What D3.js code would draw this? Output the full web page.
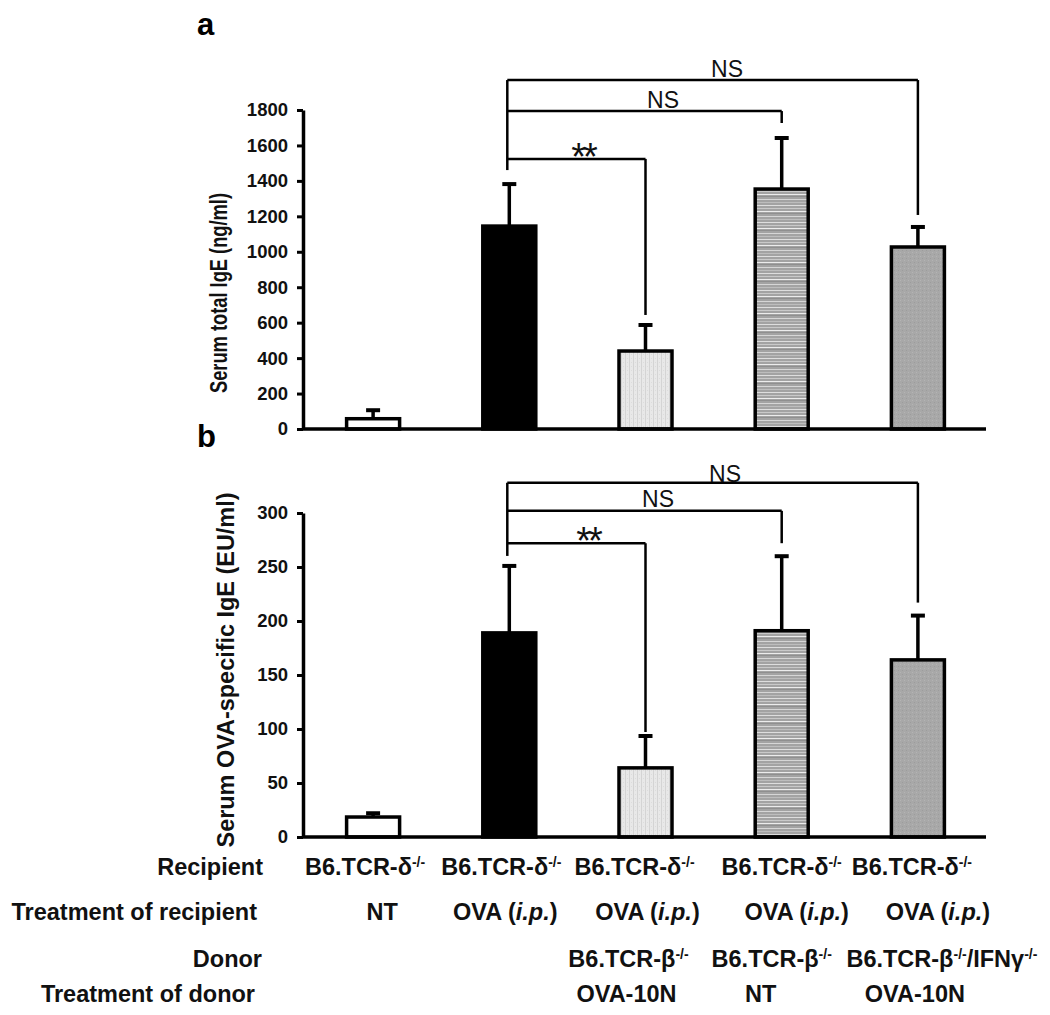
<!DOCTYPE html>
<html><head><meta charset="utf-8">
<script src="https://cdn.jsdelivr.net/npm/d3@7"></script>
<style>
body{margin:0;background:#fff;}
svg{display:block;font-family:"Liberation Sans",Arial,sans-serif;}
</style></head>
<body>
<svg id="chart" width="1050" height="1015"></svg>
<script>
// ---------- data ----------
const categories = ["NT", "OVA", "OVA+TCRb OVA-10N", "OVA+TCRb NT", "OVA+TCRb/IFNg OVA-10N"];
const totalIgE = [58, 1145, 440, 1354, 1027];
const totalIgEErr = [48, 237, 147, 288, 113];
const ovaIgE = [18.5, 189, 64, 191, 164];
const ovaIgEErr = [3.5, 62, 29.5, 69, 41];
const totalTicks = [0, 200, 400, 600, 800, 1000, 1200, 1400, 1600, 1800];
const ovaTicks = [0, 50, 100, 150, 200, 250, 300];
const fills = ["white", "black", "url(#pat3)", "url(#pat4)", "url(#pat5)"];
// comparisons: [from index, to index, label, bracket level a, bracket level b]
const compFrom = [1, 1, 1];
const compTo = [2, 3, 4];
const compLabels = ["**", "NS", "NS"];
const levelsA = [1524, 1794, 1969];
const levelsB = [272, 302, 328];
const rowTitles = ["Recipient", "Treatment of recipient", "Donor", "Treatment of donor"];
const recipient = ["B6.TCR-δ^{-/-}", "B6.TCR-δ^{-/-}", "B6.TCR-δ^{-/-}", "B6.TCR-δ^{-/-}", "B6.TCR-δ^{-/-}"];
const treatRecipient = ["NT", "OVA (<i>i.p.</i>)", "OVA (<i>i.p.</i>)", "OVA (<i>i.p.</i>)", "OVA (<i>i.p.</i>)"];
const donor = ["", "", "B6.TCR-β^{-/-}", "B6.TCR-β^{-/-}", "B6.TCR-β^{-/-}/IFNγ^{-/-}"];
const treatDonor = ["", "", "OVA-10N", "NT", "OVA-10N"];

// ---------- layout ----------
const svg = d3.select("#chart");
const defs = svg.append("defs");
// patterns
const p3 = defs.append("pattern").attr("id","pat3").attr("patternUnits","userSpaceOnUse").attr("width",4).attr("height",4);
p3.append("rect").attr("width",4).attr("height",4).attr("fill","#e8e8e8");
p3.append("rect").attr("x",1).attr("width",1).attr("height",4).attr("fill","#d4d4d4");
p3.append("rect").attr("x",3).attr("y",2).attr("width",1).attr("height",1).attr("fill","#dcdcdc");
const p4 = defs.append("pattern").attr("id","pat4").attr("patternUnits","userSpaceOnUse").attr("width",8).attr("height",17);
p4.append("rect").attr("width",8).attr("height",17).attr("fill","#a3a3a3");
[[1,"#dedede"],[4,"#c9c9c9"],[7,"#ececec"],[9,"#8f8f8f"],[12,"#d6d6d6"],[15,"#bdbdbd"]].forEach(([yy,c])=>{
  p4.append("rect").attr("y",yy).attr("width",8).attr("height",1).attr("fill",c);
});
const p5 = defs.append("pattern").attr("id","pat5").attr("patternUnits","userSpaceOnUse").attr("width",4).attr("height",4);
p5.append("rect").attr("width",4).attr("height",4).attr("fill","#a8a8a8");
p5.append("rect").attr("width",1).attr("height",1).attr("fill","#b4b4b4");
p5.append("rect").attr("x",2).attr("y",2).attr("width",1).attr("height",1).attr("fill","#9c9c9c");

const x = d3.scalePoint().domain(categories).range([305, 986]).padding(0.5);
const barW = 53;

function panel(opts) {
  const {yTop, yBottom, domainMax, ticks, values, errs, levels, title, titleX, titleLen, titleCY, letter, letterY, ns} = opts;
  const y = d3.scaleLinear().domain([0, domainMax]).range([yBottom, yTop]);
  const g = svg.append("g");
  // bars
  g.selectAll("rect.bar").data(values).join("rect").attr("class","bar")
    .attr("x",(d,i)=>x(categories[i]) - barW/2)
    .attr("y",d=>y(d))
    .attr("width",barW)
    .attr("height",d=>y(0)-y(d))
    .attr("fill",(d,i)=>fills[i])
    .attr("stroke","#000").attr("stroke-width",3.5);
  // error bars
  values.forEach((v,i)=>{
    const cx = x(categories[i]);
    g.append("line").attr("x1",cx).attr("x2",cx).attr("y1",y(v)).attr("y2",y(v+errs[i]))
      .attr("stroke","#000").attr("stroke-width",3.5);
    g.append("line").attr("x1",cx-7).attr("x2",cx+7).attr("y1",y(v+errs[i])).attr("y2",y(v+errs[i]))
      .attr("stroke","#000").attr("stroke-width",4);
  });
  // axes
  const ax = g.append("g").attr("transform",`translate(303,0)`)
    .call(d3.axisLeft(y).tickValues(ticks).tickFormat(d3.format("d")).tickSize(6).tickSizeOuter(0).tickPadding(9));
  ax.select(".domain").attr("stroke","#000").attr("stroke-width",3.5);
  ax.selectAll(".tick line").attr("stroke","#000").attr("stroke-width",3);
  ax.selectAll(".tick text").attr("font-size",18.5).attr("font-weight","bold").attr("fill","#111")
    .attr("font-family","'Liberation Sans',Arial,sans-serif");
  g.append("line").attr("x1",303).attr("x2",x.range()[1]).attr("y1",y(0)).attr("y2",y(0))
    .attr("stroke","#000").attr("stroke-width",3.5);
  // title
  g.append("text").attr("transform",`translate(${titleX},${titleCY}) rotate(-90)`)
    .attr("text-anchor","middle").attr("font-size",23).attr("font-weight","bold").attr("fill","#111")
    .attr("textLength",titleLen).attr("lengthAdjust","spacingAndGlyphs").text(title);
  g.append("text").attr("x",197).attr("y",letterY).attr("font-size",31).attr("font-weight","bold").text(letter);
  // brackets
  compFrom.forEach((fi,k)=>{
    const ti = compTo[k];
    const xl = x(categories[fi]) - 2, xr = x(categories[ti]);
    const ly = y(levels[k]);
    g.append("line").attr("x1",xr).attr("x2",xl).attr("y1",ly).attr("y2",ly).attr("stroke","#000").attr("stroke-width",2.5);
    g.append("line").attr("x1",xr).attr("x2",xr).attr("y1",ly).attr("y2",y(values[ti]+errs[ti]) - ns.gap[k])
      .attr("stroke","#000").attr("stroke-width",2.5);
    const lbl = compLabels[k];
    const t = g.append("text").attr("text-anchor","middle").attr("fill","#111")
      .attr("x", ns.lx[k]).attr("y", ns.ly[k]).text(lbl);
    if (lbl === "**") t.attr("font-size",38).attr("letter-spacing",-3);
    else t.attr("font-size",23);
  });
  // left vertical
  const topLevel = y(levels[levels.length-1]);
  g.append("line").attr("x1",x(categories[1])-2).attr("x2",x(categories[1])-2)
    .attr("y1",topLevel).attr("y2",y(values[1]+errs[1]) - ns.leftGap)
    .attr("stroke","#000").attr("stroke-width",2.5);
  return y;
}

panel({yTop:110, yBottom:429, domainMax:1800, ticks:totalTicks, values:totalIgE, errs:totalIgEErr, levels:levelsA,
  title:"Serum total IgE (ng/ml)", titleX:227, titleLen:200, titleCY:293, letter:"a", letterY:35,
  ns:{gap:[10,15,12], lx:[583,663,727], ly:[170,108,77], leftGap:14}});
panel({yTop:513, yBottom:837, domainMax:300, ticks:ovaTicks, values:ovaIgE, errs:ovaIgEErr, levels:levelsB,
  title:"Serum OVA-specific IgE (EU/ml)", titleX:234, titleLen:355, titleCY:670, letter:"b", letterY:447,
  ns:{gap:[4,13,13], lx:[588,658,725], ly:[554,507,482], leftGap:10}});

// ---------- bottom labels ----------
const rowY = [875, 920, 967, 1002];
const rowRight = [263, 257, 262, 255];
const rowData = [recipient, treatRecipient, donor, treatDonor];
const rowOffsets = [[-8,-8,-11,0,-6],[9,-4,2,15,20],[0,0,-17,-10,24],[0,0,-19,-21,-3]];
function richText(sel, str) {
  // superscripts ^{...} and italics <i>...</i>
  const parts = str.split(/(\^\{[^}]*\}|<i>[^<]*<\/i>)/).filter(s=>s.length);
  let raised = false;
  parts.forEach(p=>{
    if (p.startsWith("^{")) {
      sel.append("tspan").attr("font-size",14).attr("dy",-8).text(p.slice(2,-1));
      raised = true;
    } else if (p.startsWith("<i>")) {
      const ts = sel.append("tspan").attr("font-style","italic").text(p.slice(3,-4));
      if (raised) { ts.attr("dy",8); raised = false; }
    } else {
      const ts = sel.append("tspan").text(p);
      if (raised) { ts.attr("dy",8); raised = false; }
    }
  });
}
rowTitles.forEach((t,r)=>{
  svg.append("text").attr("x",rowRight[r]).attr("y",rowY[r]).attr("text-anchor","end")
    .attr("font-size",23.5).attr("font-weight","bold").attr("fill","#111").text(t);
  rowData[r].forEach((s,i)=>{
    if (!s) return;
    const tx = svg.append("text").attr("x",x(categories[i]) + rowOffsets[r][i]).attr("y",rowY[r])
      .attr("text-anchor","middle").attr("font-size",23.5).attr("font-weight","bold").attr("fill","#111");
    richText(tx, s);
  });
});
</script>
</body></html>
